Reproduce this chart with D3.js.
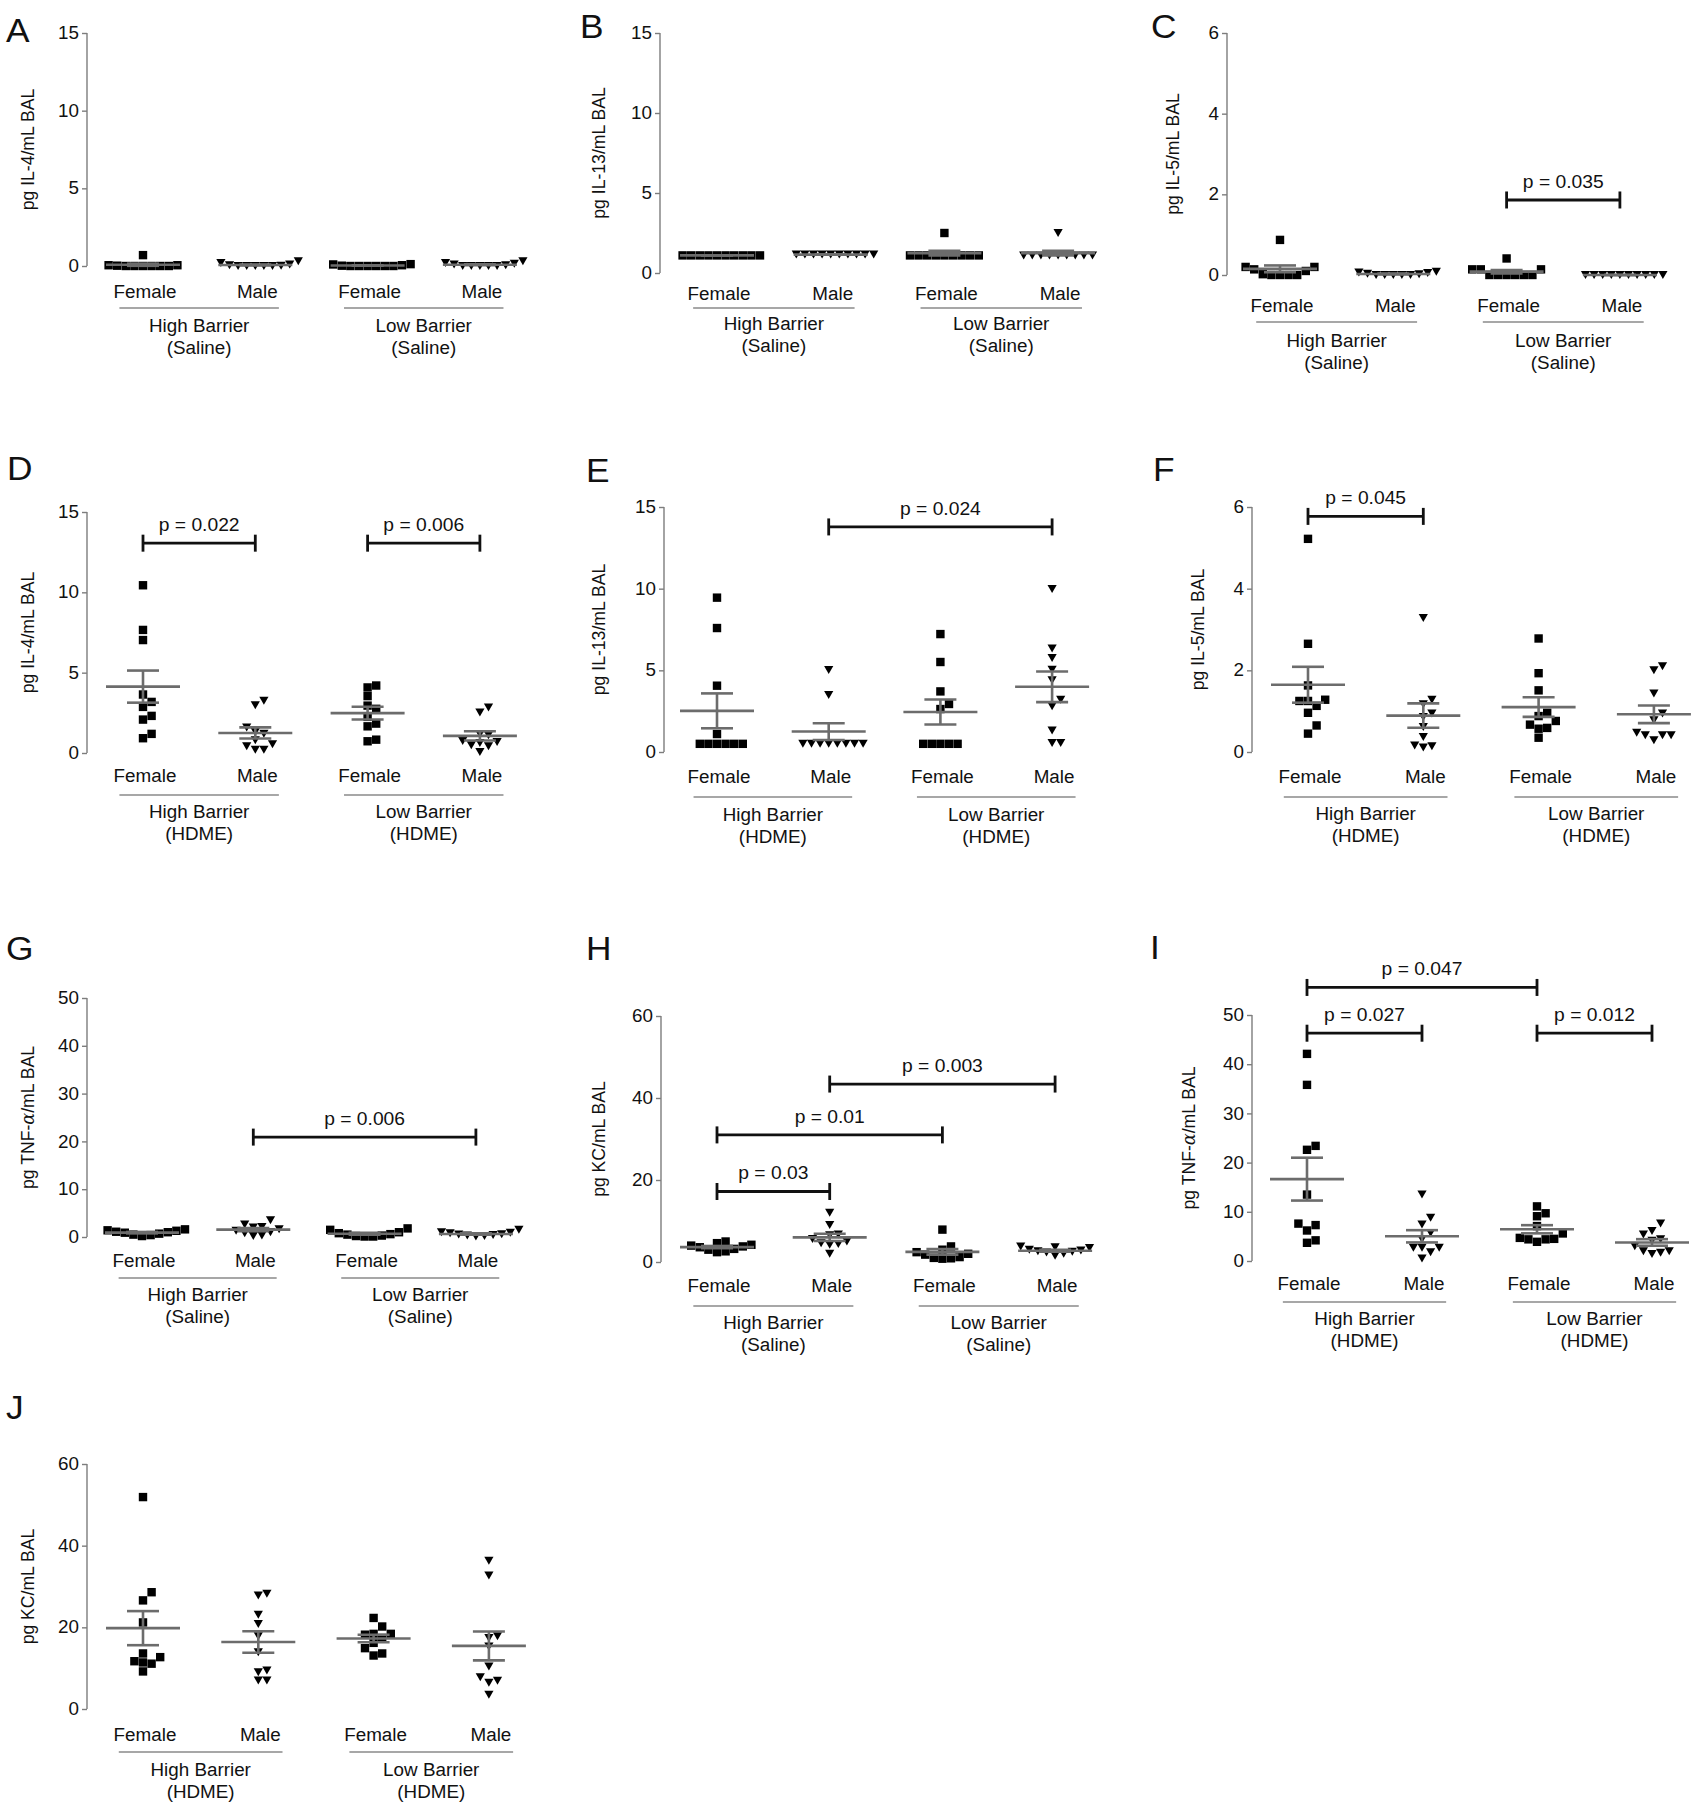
<!DOCTYPE html>
<html><head><meta charset="utf-8">
<script src="https://cdn.jsdelivr.net/npm/d3@7"></script>
<style>
body{margin:0;background:#fff}
svg{display:block}
text{font-family:"Liberation Sans",Arial,Helvetica,sans-serif;fill:#111}
</style>
</head><body>
<svg id="fig" width="1700" height="1810"></svg>
<script>
// ---------- categories / group labels ----------
const categories = ["Female", "Male", "Female", "Male"];
const sexes = ["F", "M", "F", "M"];
const salineGroups = [["High Barrier", "(Saline)"], ["Low Barrier", "(Saline)"]];
const hdmeGroups = [["High Barrier", "(HDME)"], ["Low Barrier", "(HDME)"]];

// ---------- tick labels ----------
const ticks15 = [0, 5, 10, 15];
const ticks6 = [0, 2, 4, 6];
const ticks50 = [0, 10, 20, 30, 40, 50];
const ticks60 = [0, 20, 40, 60];

// ---------- values (pg/mL BAL), order: High F, High M, Low F, Low M ----------
const A_hiF = [0.7, 0.05, 0.05, 0.02, 0, 0, 0, 0, 0, 0];
const A_hiM = [0.3, 0.2, 0.1, 0.05, 0.02, 0, 0, 0, 0, 0];
const A_loF = [0.12, 0.1, 0.05, 0.02, 0, 0, 0, 0, 0, 0];
const A_loM = [0.3, 0.2, 0.15, 0.1, 0.05, 0, 0, 0, 0, 0];

const B_hiF = [1.1, 1.1, 1.1, 1.1, 1.1, 1.1, 1.1, 1.1, 1.1, 1.1];
const B_hiM = [1.15, 1.15, 1.15, 1.15, 1.15, 1.15, 1.15, 1.15, 1.15, 1.15];
const B_loF = [2.5, 1.1, 1.1, 1.1, 1.1, 1.1, 1.1, 1.1, 1.1, 1.1];
const B_loM = [2.5, 1.1, 1.1, 1.1, 1.1, 1.1, 1.1, 1.1, 1.1, 1.1];

const C_hiF = [0.87, 0.2, 0.2, 0.14, 0.1, 0.02, 0, 0, 0, 0];
const C_hiM = [0.08, 0.06, 0.05, 0.03, 0.02, 0, 0, 0, 0, 0];
const C_loF = [0.41, 0.14, 0.14, 0.14, 0, 0, 0, 0, 0, 0];
const C_loM = [0, 0, 0, 0, 0, 0, 0, 0, 0, 0];

const D_hiF = [10.44, 7.66, 7.03, 3.64, 3.18, 2.87, 2.31, 2.08, 1.19, 0.92];
const D_hiM = [3.25, 2.97, 1.58, 1.31, 1.2, 0.79, 0.54, 0.42, 0.21, 0.21];
const D_loF = [4.2, 4.08, 3.54, 2.95, 2.75, 2.25, 1.83, 1.66, 0.83, 0.73];
const D_loM = [2.83, 2.52, 1.16, 1.1, 0.75, 0.69, 0.62, 0.48, 0.42, 0.06];

const E_hiF = [9.45, 7.59, 4.06, 1.1, 0.5, 0.5, 0.5, 0.5, 0.5, 0.5];
const E_hiM = [5.02, 3.49, 0.5, 0.5, 0.5, 0.5, 0.5, 0.5, 0.5, 0.5];
const E_loF = [7.22, 5.51, 3.71, 2.94, 2.63, 0.5, 0.5, 0.5, 0.5, 0.5];
const E_loM = [9.98, 6.33, 5.76, 5.04, 4.39, 3.2, 2.8, 1.31, 0.55, 0.55];

const F_hiF = [5.22, 2.65, 1.63, 1.28, 1.25, 1.25, 1.13, 0.96, 0.65, 0.45];
const F_hiM = [3.28, 1.28, 1.17, 0.94, 0.86, 0.61, 0.37, 0.16, 0.14, 0.11];
const F_loF = [2.78, 1.93, 1.51, 0.96, 0.88, 0.76, 0.67, 0.59, 0.57, 0.35];
const F_loM = [2.1, 2.0, 1.43, 0.94, 0.78, 0.47, 0.41, 0.41, 0.41, 0.29];

const G_hiF = [1.6, 1.4, 1.3, 1.1, 1.0, 0.9, 0.7, 0.5, 0.4, 0.2];
const G_hiM = [3.5, 2.6, 2.1, 2.0, 1.6, 1.3, 1.0, 0.8, 0.3, 0.2];
const G_loF = [1.8, 1.5, 1.0, 0.8, 0.6, 0.5, 0.3, 0.2, 0.1, 0.1];
const G_loM = [1.5, 1.0, 0.9, 0.8, 0.6, 0.5, 0.4, 0.3, 0.2, 0.1];

const H_hiF = [5.0, 4.6, 4.2, 4.0, 3.8, 3.6, 3.2, 3.0, 2.6, 2.4];
const H_hiM = [12.0, 9.0, 6.7, 6.5, 5.6, 5.0, 4.6, 4.4, 4.2, 2.0];
const H_loF = [7.9, 3.8, 3.0, 2.4, 2.0, 1.8, 1.2, 1.0, 0.9, 0.8];
const H_loM = [3.8, 3.6, 3.4, 3.0, 2.8, 2.6, 2.5, 2.3, 2.0, 1.5];

const I_hiF = [42.1, 35.8, 23.4, 22.6, 13.5, 7.6, 7.3, 6.2, 4.2, 3.7];
const I_hiM = [13.5, 8.8, 7.4, 5.7, 4.4, 2.7, 2.7, 2.7, 1.8, 0.5];
const I_loF = [11.1, 9.7, 9.1, 7.1, 5.6, 4.7, 4.5, 4.4, 4.4, 3.9];
const I_loM = [7.6, 6.1, 5.4, 4.4, 4.1, 3.0, 2.0, 2.0, 1.7, 1.4];

const J_hiF = [51.9, 28.6, 26.6, 21.2, 13.6, 12.7, 11.7, 11.4, 11.1, 9.2];
const J_hiM = [28.2, 27.8, 23.1, 20.8, 17.8, 13.9, 9.4, 9.0, 7.0, 7.0];
const J_loF = [22.3, 20.2, 18.4, 18.4, 18.2, 17.4, 16.2, 14.9, 13.6, 13.1];
const J_loM = [36.3, 32.7, 17.8, 17.4, 15.3, 10.4, 7.8, 6.9, 6.4, 3.5];

// ---------- significance brackets: [from group, to group, height value, label] ----------
const C_sig = [[2, 3, 1.86, "p = 0.035"]];
const D_sig = [[0, 1, 13.06, "p = 0.022"], [2, 3, 13.06, "p = 0.006"]];
const E_sig = [[1, 3, 13.78, "p = 0.024"]];
const F_sig = [[0, 1, 5.77, "p = 0.045"]];
const G_sig = [[1, 3, 20.9, "p = 0.006"]];
const H_sig = [[0, 1, 17.2, "p = 0.03"], [0, 2, 31.0, "p = 0.01"], [1, 3, 43.4, "p = 0.003"]];
const I_sig = [[0, 2, 55.6, "p = 0.047"], [0, 1, 46.3, "p = 0.027"], [2, 3, 46.3, "p = 0.012"]];

// ---------- panel definitions ----------
const panels = [
  {id:"A", ylab:["pg IL-4/mL BAL"], vals:[A_hiF,A_hiM,A_loF,A_loM], max:15, ticks:ticks15, groups:salineGroups, sig:[]},
  {id:"B", ylab:["pg IL-13/mL BAL"], vals:[B_hiF,B_hiM,B_loF,B_loM], max:15, ticks:ticks15, groups:salineGroups, sig:[]},
  {id:"C", ylab:["pg IL-5/mL BAL"], vals:[C_hiF,C_hiM,C_loF,C_loM], max:6, ticks:ticks6, groups:salineGroups, sig:C_sig},
  {id:"D", ylab:["pg IL-4/mL BAL"], vals:[D_hiF,D_hiM,D_loF,D_loM], max:15, ticks:ticks15, groups:hdmeGroups, sig:D_sig},
  {id:"E", ylab:["pg IL-13/mL BAL"], vals:[E_hiF,E_hiM,E_loF,E_loM], max:15, ticks:ticks15, groups:hdmeGroups, sig:E_sig},
  {id:"F", ylab:["pg IL-5/mL BAL"], vals:[F_hiF,F_hiM,F_loF,F_loM], max:6, ticks:ticks6, groups:hdmeGroups, sig:F_sig},
  {id:"G", ylab:["pg TNF-", "α", "/mL BAL"], vals:[G_hiF,G_hiM,G_loF,G_loM], max:50, ticks:ticks50, groups:salineGroups, sig:G_sig},
  {id:"H", ylab:["pg KC/mL BAL"], vals:[H_hiF,H_hiM,H_loF,H_loM], max:60, ticks:ticks60, groups:salineGroups, sig:H_sig},
  {id:"I", ylab:["pg TNF-", "α", "/mL BAL"], vals:[I_hiF,I_hiM,I_loF,I_loM], max:50, ticks:ticks50, groups:hdmeGroups, sig:I_sig},
  {id:"J", ylab:["pg KC/mL BAL"], vals:[J_hiF,J_hiM,J_loF,J_loM], max:60, ticks:ticks60, groups:hdmeGroups, sig:[]}
];

// ---------- layout (pixel geometry, per panel) ----------
const layout = {
  A:{ax:87,   y0:266,  yTop:33,   c0:56, sp:112.3, yl:60, cat:32, line:42, g1:66, lx:6,    ly:42},
  B:{ax:660,  y0:273,  yTop:33,   c0:57, sp:113.7, yl:62, cat:27, line:35, g1:57, lx:580,  ly:38},
  C:{ax:1227, y0:275,  yTop:33,   c0:53, sp:113.3, yl:55, cat:37, line:47, g1:72, lx:1151, ly:38},
  D:{ax:87,   y0:753,  yTop:512,  c0:56, sp:112.3, yl:60, cat:29, line:42, g1:65, lx:7,    ly:480},
  E:{ax:664,  y0:752,  yTop:507,  c0:53, sp:111.7, yl:66, cat:31, line:45, g1:69, lx:586,  ly:482},
  F:{ax:1252, y0:752,  yTop:507,  c0:56, sp:115.3, yl:55, cat:31, line:45, g1:68, lx:1153, ly:481},
  G:{ax:87,   y0:1237, yTop:998,  c0:55, sp:111.3, yl:60, cat:30, line:41, g1:64, lx:6,    ly:960},
  H:{ax:661,  y0:1262, yTop:1016, c0:56, sp:112.7, yl:63, cat:30, line:44, g1:67, lx:586,  ly:960},
  I:{ax:1252, y0:1261, yTop:1015, c0:55, sp:115,   yl:64, cat:29, line:41, g1:64, lx:1150, ly:959},
  J:{ax:87,   y0:1709, yTop:1464, c0:56, sp:115.3, yl:60, cat:32, line:43, g1:67, lx:6,    ly:1419}
};

const svg = d3.select("#fig");
const GRAY = "#6c6c6c";
const AXIS = "#7d7d7d";
const SQ = 8.4;          // square marker size
const TW = 9.2, TH = 8;  // triangle marker size
const STEP = 8.6;        // horizontal spread step
const SX = 1.07;         // horizontal stretch of the original typesetting
const FS = 17.6;

function label(sel, x, y, txt, size, anchor) {
  return sel.append("text")
    .attr("transform", `translate(${x},${y}) scale(${SX},1)`)
    .attr("text-anchor", anchor || "middle")
    .attr("font-size", size || FS).text(txt);
}

function swarm(vals, y, h) {
  const pts = vals.map(v => ({v, py: y(v)})).sort((a, b) => a.v - b.v);
  const placed = [];
  for (const p of pts) {
    for (let k = 0; k < 40; k++) {
      const col = (k % 2 === 1) ? (k + 1) / 2 : -k / 2;
      const clash = placed.some(q => q.col === col && Math.abs(q.py - p.py) < h);
      if (!clash) { p.col = col; placed.push(p); break; }
    }
  }
  return placed;
}

panels.forEach(P => {
  const L = layout[P.id];
  const g = svg.append("g");
  const y = d3.scaleLinear().domain([0, P.max]).range([L.y0, L.yTop]);
  const x = d3.scalePoint().domain([0, 1, 2, 3]).range([L.ax + L.c0, L.ax + L.c0 + 3 * L.sp]);

  // panel letter
  label(g, L.lx, L.ly, P.id, 33, "start");

  // y axis
  const axis = g.append("g").attr("transform", `translate(${L.ax},0)`)
    .call(d3.axisLeft(y).tickValues(P.ticks).tickSize(5).tickPadding(3).tickFormat(d3.format("d")));
  axis.select(".domain").attr("stroke", AXIS).attr("stroke-width", 1.4).attr("d", `M0,${L.y0}V${L.yTop}`);
  axis.selectAll(".tick line").attr("stroke", AXIS).attr("stroke-width", 1.4);
  axis.selectAll(".tick text").attr("font-size", FS).attr("fill", "#111")
    .attr("font-family", '"Liberation Sans",Arial,sans-serif')
    .attr("transform", `scale(${SX},1)`).attr("x", -8 / SX);

  // y label
  const yl = g.append("text")
    .attr("transform", `translate(${L.ax - L.yl},${(L.y0 + L.yTop) / 2}) rotate(-90) scale(1,${SX})`)
    .attr("text-anchor", "middle").attr("dy", "0.35em").attr("font-size", FS);
  if (P.ylab.length === 1) yl.text(P.ylab[0]);
  else {
    yl.append("tspan").text(P.ylab[0]);
    yl.append("tspan").attr("font-style", "italic").attr("font-family", '"DejaVu Serif",serif').text(P.ylab[1]);
    yl.append("tspan").text(P.ylab[2]);
  }

  // points
  P.vals.forEach((vals, i) => {
    const isF = sexes[i] === "F";
    const pts = swarm(vals, y, isF ? SQ : TH);
    const cx = x(i);
    const m = g.append("g").attr("fill", "#000");
    pts.forEach(p => {
      const px = cx + p.col * STEP;
      if (isF) {
        m.append("rect").attr("x", px - SQ / 2).attr("y", p.py - SQ / 2)
          .attr("width", SQ).attr("height", SQ);
      } else {
        m.append("path").attr("d", `M${px - TW / 2},${p.py - TH / 2}L${px + TW / 2},${p.py - TH / 2}L${px},${p.py + TH / 2}Z`);
      }
    });
    // mean ± SEM
    const mean = d3.mean(vals);
    const sem = d3.deviation(vals) / Math.sqrt(vals.length) || 0;
    const s = g.append("g").attr("stroke", GRAY).attr("stroke-width", 2.6).attr("fill", "none");
    s.append("line").attr("x1", cx - 37).attr("x2", cx + 37).attr("y1", y(mean)).attr("y2", y(mean));
    s.append("line").attr("x1", cx).attr("x2", cx).attr("y1", y(mean - sem)).attr("y2", y(mean + sem));
    s.append("line").attr("x1", cx - 16).attr("x2", cx + 16).attr("y1", y(mean + sem)).attr("y2", y(mean + sem));
    s.append("line").attr("x1", cx - 16).attr("x2", cx + 16).attr("y1", y(mean - sem)).attr("y2", y(mean - sem));

    // category label
    label(g, cx + 2, L.y0 + L.cat, categories[i]);
  });

  // group labels and underlines
  P.groups.forEach((gl, j) => {
    const gc = (x(2 * j) + x(2 * j + 1)) / 2;
    const hw = 0.71 * L.sp;
    g.append("line").attr("x1", gc - hw).attr("x2", gc + hw)
      .attr("y1", L.y0 + L.line).attr("y2", L.y0 + L.line)
      .attr("stroke", "#8a8a8a").attr("stroke-width", 1.6);
    label(g, gc, L.y0 + L.g1, gl[0]);
    label(g, gc, L.y0 + L.g1 + 22, gl[1]);
  });

  // significance brackets
  P.sig.forEach(([a, b, h, lab]) => {
    const yy = y(h), x1 = x(a), x2 = x(b);
    const br = g.append("g").attr("stroke", "#111").attr("stroke-width", 2.8);
    br.append("line").attr("x1", x1).attr("x2", x2).attr("y1", yy).attr("y2", yy);
    br.append("line").attr("x1", x1).attr("x2", x1).attr("y1", yy - 8.5).attr("y2", yy + 8.5);
    br.append("line").attr("x1", x2).attr("x2", x2).attr("y1", yy - 8.5).attr("y2", yy + 8.5);
    label(g, (x1 + x2) / 2, yy - 12, lab, 18);
  });
});
</script>
</body></html>
